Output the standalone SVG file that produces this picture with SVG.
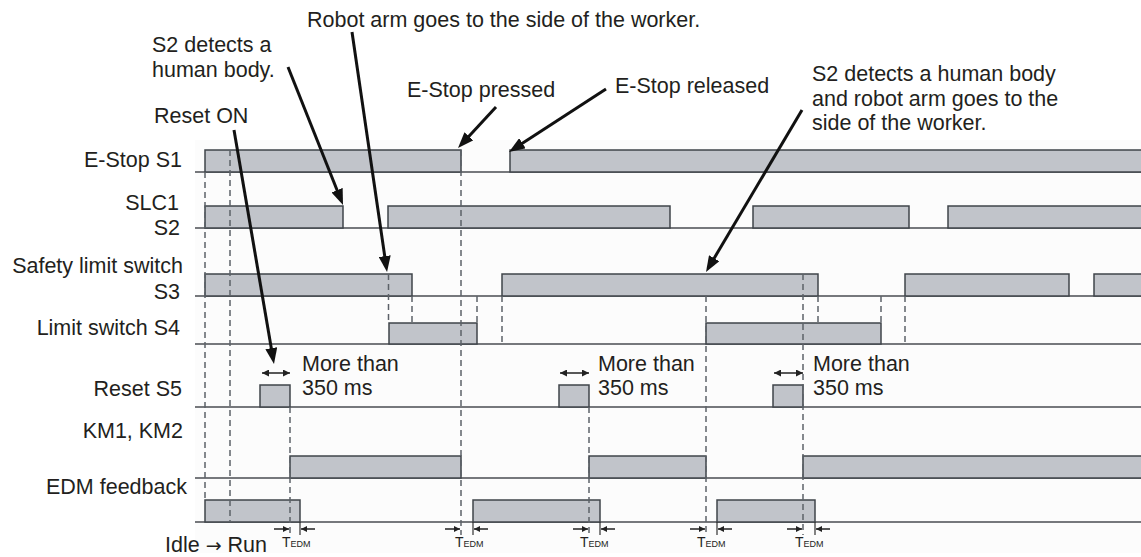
<svg xmlns="http://www.w3.org/2000/svg" width="1141" height="557" viewBox="0 0 1141 557">
<defs>
<style>
text{font-family:"Liberation Sans",Arial,sans-serif;font-size:21.5px;fill:#231f20}
.lbl{text-anchor:end}
.sig{fill:#c1c4ca;stroke:#3f444a;stroke-width:1.5}
.base{stroke:#4a4d52;stroke-width:1.5;fill:none}
.dash{stroke:#5c6168;stroke-width:1.5;stroke-dasharray:6 4;fill:none}
.ann{stroke:#111;stroke-width:3;fill:none}
.dbl{stroke:#222;stroke-width:1.5;fill:none}
.tick{stroke:#333;stroke-width:1.2;fill:none}
.t1{font-size:14px}
.t2{font-size:9px}
.arr{font-family:"DejaVu Sans",sans-serif;font-size:19px}
</style>
<marker id="ah" viewBox="0 0 16 12" refX="6" refY="6" markerWidth="16" markerHeight="12" markerUnits="userSpaceOnUse" orient="auto"><path d="M0,0 L16,6 L0,12 z" fill="#111"/></marker>
<marker id="sa" viewBox="0 0 8 8" refX="8" refY="4" markerWidth="7" markerHeight="7" markerUnits="userSpaceOnUse" orient="auto-start-reverse"><path d="M0,0 L8,4 L0,8 z" fill="#222"/></marker>
<marker id="ta" viewBox="0 0 8 8" refX="8" refY="4" markerWidth="6" markerHeight="6" markerUnits="userSpaceOnUse" orient="auto"><path d="M0,0 L8,4 L0,8 z" fill="#222"/></marker>
</defs>
<rect x="0" y="0" width="1141" height="557" fill="#ffffff"/>
<rect x="195" y="140" width="946" height="413" fill="#fcfcfc"/>

<g id="row-s1">
<text class="lbl" x="182" y="167">E-Stop S1</text>
<line class="base" x1="195" y1="172" x2="1141" y2="172"/>
<rect class="sig" x="205" y="150" width="256" height="22"/>
<rect class="sig" x="510" y="150" width="640" height="22"/>
</g>
<g id="row-s2">
<text class="lbl" x="179" y="210">SLC1</text>
<text class="lbl" x="180" y="235">S2</text>
<line class="base" x1="195" y1="228" x2="1141" y2="228"/>
<rect class="sig" x="205" y="206" width="138" height="22"/>
<rect class="sig" x="388" y="206" width="282" height="22"/>
<rect class="sig" x="753" y="206" width="156" height="22"/>
<rect class="sig" x="948" y="206" width="200" height="22"/>
</g>
<g id="row-s3">
<text class="lbl" x="183" y="273">Safety limit switch</text>
<text class="lbl" x="180" y="299">S3</text>
<line class="base" x1="195" y1="296" x2="1141" y2="296"/>
<rect class="sig" x="205" y="274" width="207" height="22"/>
<rect class="sig" x="502" y="274" width="316" height="22"/>
<rect class="sig" x="905" y="274" width="164" height="22"/>
<rect class="sig" x="1094" y="274" width="60" height="22"/>
</g>
<g id="row-s4">
<text class="lbl" x="180" y="335">Limit switch S4</text>
<line class="base" x1="195" y1="344" x2="1141" y2="344"/>
<rect class="sig" x="389" y="323" width="88" height="21"/>
<rect class="sig" x="706" y="323" width="175" height="21"/>
</g>
<g id="row-s5">
<text class="lbl" x="182" y="396">Reset S5</text>
<line class="base" x1="195" y1="407" x2="1141" y2="407"/>
<rect class="sig" x="260" y="385" width="30" height="22"/>
<rect class="sig" x="559" y="385" width="30" height="22"/>
<rect class="sig" x="773" y="385" width="30" height="22"/>
</g>
<g id="row-km">
<text class="lbl" x="183" y="438">KM1, KM2</text>
<line class="base" x1="195" y1="478" x2="1141" y2="478"/>
<rect class="sig" x="290" y="456" width="171" height="22"/>
<rect class="sig" x="589" y="456" width="117" height="22"/>
<rect class="sig" x="803" y="456" width="350" height="22"/>
</g>
<g id="row-edm">
<text class="lbl" x="187" y="494">EDM feedback</text>
<line class="base" x1="195" y1="522" x2="1141" y2="522"/>
<rect class="sig" x="205" y="500" width="95" height="22"/>
<rect class="sig" x="473" y="500" width="127" height="22"/>
<rect class="sig" x="717" y="500" width="98" height="22"/>
</g>

<g id="connectors">
<path class="dash" d="M205,172 V500 M230,150 V522 M461,150 V535 M290,407 V535 M589,407 V535 M706,296 V535 M803,274 V535"/>
<path class="dash" d="M388.5,274 V323 M412,296 V323 M477,296 V323 M502,296 V344 M818,296 V323 M881,296 V323 M905,296 V344"/>
<path class="tick" d="M300,522 V535 M473,522 V535 M600,522 V535 M717,522 V535 M815,522 V535"/>
<path class="ann" d="M288,67 L339.3,195.7" marker-end="url(#ah)"/>
<path class="ann" d="M352,32 L385.6,262.1" marker-end="url(#ah)"/>
<path class="ann" d="M234,130 L272.3,354.1" marker-end="url(#ah)"/>
<path class="ann" d="M496,107 L464.8,140.7" marker-end="url(#ah)"/>
<path class="ann" d="M606,89 L517.4,146.5" marker-end="url(#ah)"/>
<path class="ann" d="M802,110 L711.1,263.4" marker-end="url(#ah)"/>
<line class="dbl" x1="262" y1="373" x2="290" y2="373" marker-start="url(#sa)" marker-end="url(#sa)"/>
<line class="dbl" x1="560" y1="373" x2="589" y2="373" marker-start="url(#sa)" marker-end="url(#sa)"/>
<line class="dbl" x1="774" y1="373" x2="803" y2="373" marker-start="url(#sa)" marker-end="url(#sa)"/>
<line class="dbl" x1="274" y1="529" x2="289" y2="529" marker-end="url(#ta)"/>
<line class="dbl" x1="315" y1="529" x2="301" y2="529" marker-end="url(#ta)"/>
<line class="dbl" x1="445" y1="529" x2="460" y2="529" marker-end="url(#ta)"/>
<line class="dbl" x1="488" y1="529" x2="474" y2="529" marker-end="url(#ta)"/>
<line class="dbl" x1="573" y1="529" x2="588" y2="529" marker-end="url(#ta)"/>
<line class="dbl" x1="615" y1="529" x2="601" y2="529" marker-end="url(#ta)"/>
<line class="dbl" x1="690" y1="529" x2="705" y2="529" marker-end="url(#ta)"/>
<line class="dbl" x1="732" y1="529" x2="718" y2="529" marker-end="url(#ta)"/>
<line class="dbl" x1="787" y1="529" x2="802" y2="529" marker-end="url(#ta)"/>
<line class="dbl" x1="830" y1="529" x2="816" y2="529" marker-end="url(#ta)"/>
</g>

<g id="annotations">
<text x="307" y="27">Robot arm goes to the side of the worker.</text>
<text x="152" y="52">S2 detects a</text>
<text x="152" y="77">human body.</text>
<text x="154" y="123">Reset ON</text>
<text x="407" y="97">E-Stop pressed</text>
<text x="615" y="93">E-Stop released</text>
<text x="812" y="81">S2 detects a human body</text>
<text x="812" y="106">and robot arm goes to the</text>
<text x="812" y="130">side of the worker.</text>
<text x="302" y="371">More than</text>
<text x="302" y="395">350 ms</text>
<text x="598" y="371">More than</text>
<text x="598" y="395">350 ms</text>
<text x="813" y="371">More than</text>
<text x="813" y="395">350 ms</text>
<text x="165" y="552">Idle <tspan class="arr">→</tspan> Run</text>
<text x="282" y="547"><tspan class="t1">T</tspan><tspan class="t2">EDM</tspan></text>
<text x="455" y="547"><tspan class="t1">T</tspan><tspan class="t2">EDM</tspan></text>
<text x="580" y="547"><tspan class="t1">T</tspan><tspan class="t2">EDM</tspan></text>
<text x="697" y="547"><tspan class="t1">T</tspan><tspan class="t2">EDM</tspan></text>
<text x="795" y="547"><tspan class="t1">T</tspan><tspan class="t2">EDM</tspan></text>
</g>
</svg>
